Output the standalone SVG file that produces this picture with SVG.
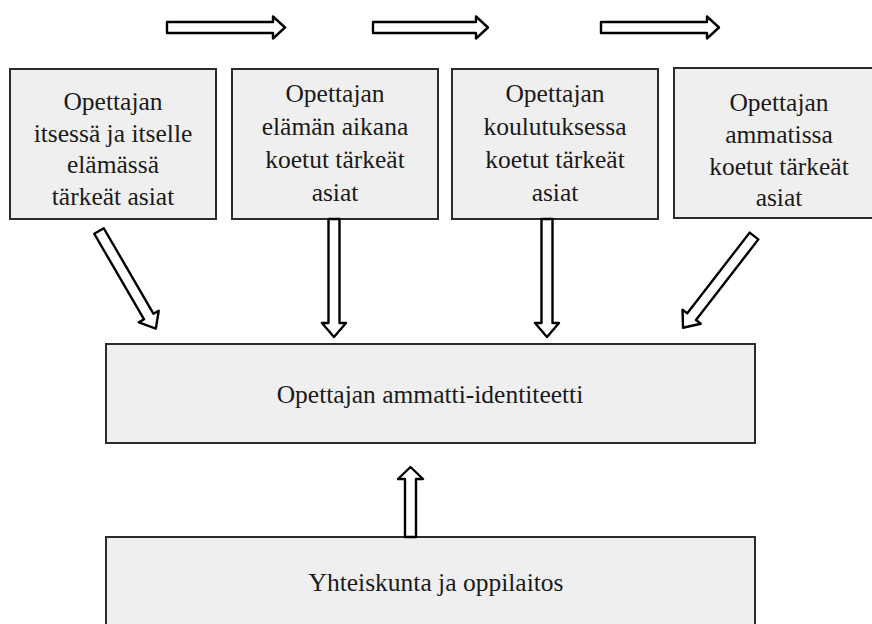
<svg xmlns="http://www.w3.org/2000/svg" width="872" height="624" viewBox="0 0 872 624">
<style>
.box{fill:#efefef;stroke:#2b2b2b;stroke-width:2}
.t{font-size:25.5px;fill:#1a1a1a;text-anchor:middle}
.arr{fill:#ffffff;stroke:#000;stroke-width:2.4;stroke-linejoin:round}
</style>
<defs>
<polygon id="h118" points="0,-5.5 106,-5.5 106,-11 118,0 106,11 106,5.5 0,5.5"/>
<polygon id="h115" points="0,-5.5 103,-5.5 103,-11 115,0 103,11 103,5.5 0,5.5"/>
<polygon id="v118" points="0,-5.5 104,-5.5 104,-12 118,0 104,12 104,5.5 0,5.5"/>
<polygon id="u70" points="0,-5.5 58,-5.5 58,-12.5 70,0 58,12.5 58,5.5 0,5.5"/>
<polygon id="d113" points="0,-5.5 99,-5.5 99,-11.5 113,0 99,11.5 99,5.5 0,5.5"/>
<polygon id="d116" points="0,-5.5 102,-5.5 102,-11.5 116,0 102,11.5 102,5.5 0,5.5"/>
</defs>
<g font-family="'Liberation Serif', 'Times New Roman', 'DejaVu Serif', serif">
<g id="box1">
<rect class="box" x="10" y="69" width="206" height="150"/>
<text class="t" x="113" y="110">Opettajan</text>
<text class="t" x="113" y="141.5">itsessä ja itselle</text>
<text class="t" x="113" y="173">elämässä</text>
<text class="t" x="113" y="204.5">tärkeät asiat</text>
</g>
<g id="box2">
<rect class="box" x="232" y="69" width="206" height="150"/>
<text class="t" x="335" y="102">Opettajan</text>
<text class="t" x="335" y="135">elämän aikana</text>
<text class="t" x="335" y="168">koetut tärkeät</text>
<text class="t" x="335" y="201">asiat</text>
</g>
<g id="box3">
<rect class="box" x="452" y="69" width="206" height="150"/>
<text class="t" x="555" y="102">Opettajan</text>
<text class="t" x="555" y="135">koulutuksessa</text>
<text class="t" x="555" y="168">koetut tärkeät</text>
<text class="t" x="555" y="201">asiat</text>
</g>
<g id="box4">
<rect class="box" x="674" y="68" width="210" height="150"/>
<text class="t" x="779" y="111">Opettajan</text>
<text class="t" x="779" y="143">ammatissa</text>
<text class="t" x="779" y="175">koetut tärkeät</text>
<text class="t" x="779" y="206">asiat</text>
</g>
<g id="identity">
<rect class="box" x="106" y="344" width="649" height="99"/>
<text class="t" x="430" y="403">Opettajan ammatti-identiteetti</text>
</g>
<g id="society">
<rect class="box" x="106" y="537" width="649" height="100"/>
<text class="t" x="436" y="591">Yhteiskunta ja oppilaitos</text>
</g>
</g>
<g id="connectors">
<use class="arr" href="#h118" transform="translate(167,27.5)"/>
<use class="arr" href="#h115" transform="translate(373,27.5)"/>
<use class="arr" href="#h118" transform="translate(601,27.5)"/>
<use class="arr" href="#d113" transform="translate(99,231) rotate(59.8)"/>
<use class="arr" href="#v118" transform="translate(334,219) rotate(90)"/>
<use class="arr" href="#v118" transform="translate(547,219) rotate(90)"/>
<use class="arr" href="#d116" transform="translate(754,236) rotate(127.7)"/>
<use class="arr" href="#u70" transform="translate(410.5,537) rotate(-90)"/>
</g>
</svg>
